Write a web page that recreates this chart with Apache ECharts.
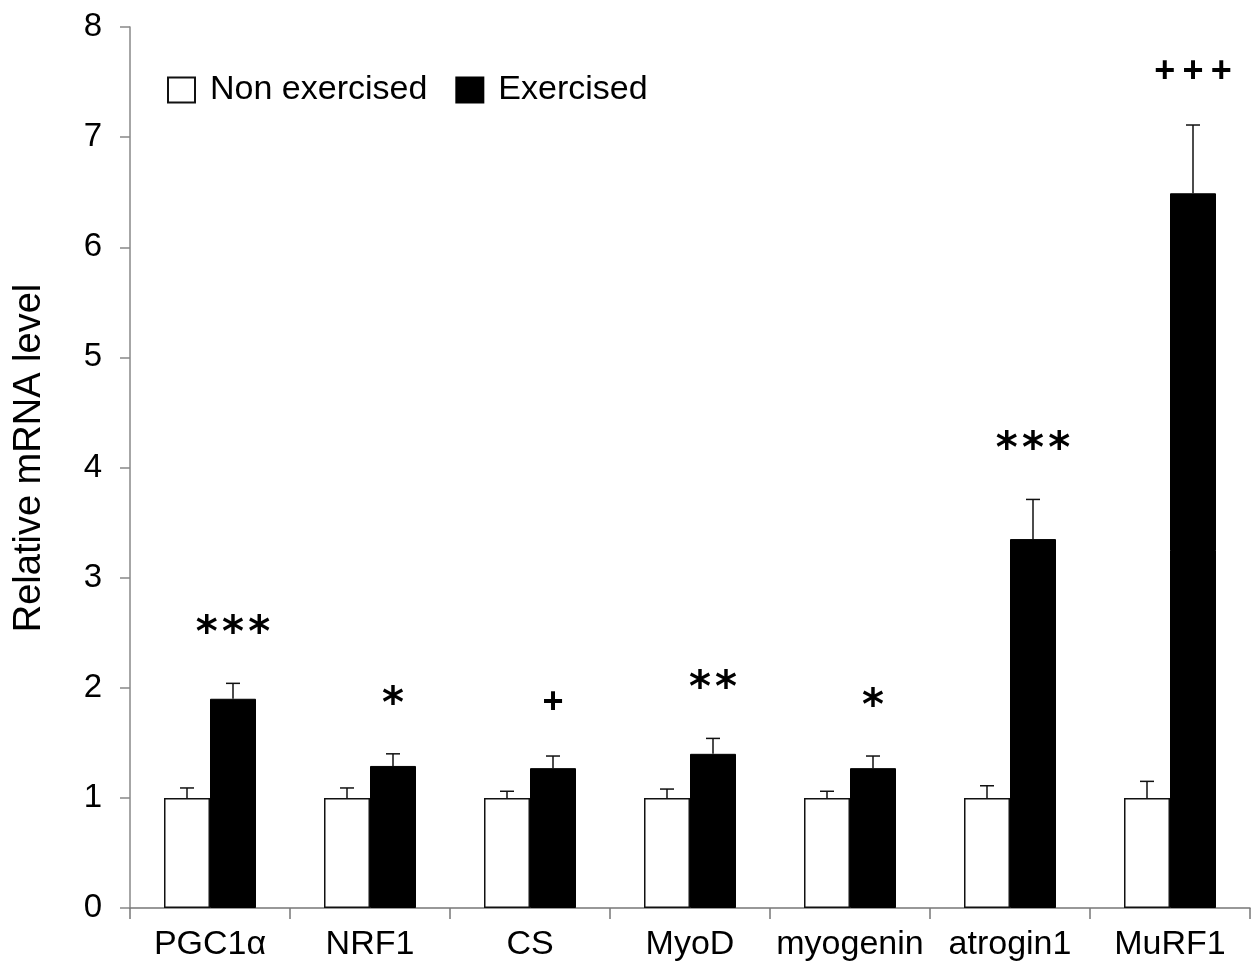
<!DOCTYPE html>
<html>
<head>
<meta charset="utf-8">
<script src="https://cdn.jsdelivr.net/npm/echarts@6/dist/echarts.min.js"></script>
<style>
  html, body { margin: 0; padding: 0; background: #fff; }
  #chart { width: 1255px; height: 969px; }
</style>
</head>
<body>
<div id="chart"></div>
<script>
const genes = ['PGC1\u03b1', 'NRF1', 'CS', 'MyoD', 'myogenin', 'atrogin1', 'MuRF1'];
const nonExercised = [1, 1, 1, 1, 1, 1, 1];
const nonExercisedErr = [0.09, 0.09, 0.06, 0.08, 0.06, 0.11, 0.15];
const exercised = [1.90, 1.29, 1.27, 1.40, 1.27, 3.35, 6.49];
const exercisedErr = [0.14, 0.11, 0.11, 0.14, 0.11, 0.36, 0.62];
const marks = ['***', '*', '+', '**', '*', '***', '+++'];
const yTicks = [0, 1, 2, 3, 4, 5, 6, 7, 8];

const font = 'Liberation Sans, Arial, sans-serif';
const barW = 46;

// error bars (upward only) drawn next to each bar, plus the significance marks
function errorBars(values, errs, shift, withMarks) {
  return {
    type: 'custom',
    silent: true,
    z: 5,
    data: values.map((v, i) => [i, v, v + errs[i]]),
    renderItem(params, api) {
      const i = api.value(0);
      const base = api.coord([i, api.value(1)]);
      const top = api.coord([i, api.value(2)]);
      const x = base[0] + shift;
      const style = { stroke: '#111', lineWidth: 1.5 };
      const children = [
        { type: 'line', shape: { x1: x, y1: base[1], x2: x, y2: top[1] }, style },
        { type: 'line', shape: { x1: x - 7, y1: top[1], x2: x + 7, y2: top[1] }, style }
      ];
      if (withMarks) {
        const m = marks[i];
        const isStar = m.indexOf('*') >= 0;
        children.push({
          type: 'text',
          style: {
            text: m.split('').join(isStar ? '\u200a' : '\u2009'),
            x: x,
            y: top[1] - (isStar ? 48 : 53),
            align: 'center',
            verticalAlign: 'middle',
            fill: '#000',
            font: isStar ? 'bold 42px DejaVu Sans' : 'bold 36px Liberation Sans'
          }
        });
      }
      return { type: 'group', children };
    }
  };
}

const chart = echarts.init(document.getElementById('chart'));
chart.setOption({
  animation: false,
  backgroundColor: '#fff',
  textStyle: { fontFamily: font },
  grid: { left: 130, right: 5, top: 27, bottom: 61, containLabel: false },
  legend: {
    left: 162,
    top: 68,
    icon: 'rect',
    itemWidth: 27,
    itemHeight: 25,
    itemGap: 28,
    textStyle: { fontFamily: font, fontSize: 34, color: '#000', padding: [0, 0, 0, 10] },
    data: ['Non exercised', 'Exercised']
  },
  xAxis: {
    type: 'category',
    data: genes,
    axisLine: { lineStyle: { color: '#777', width: 1.5 } },
    axisTick: { show: true, interval: 0, length: 11, lineStyle: { color: '#777', width: 1.5 } },
    axisLabel: { interval: 0, color: '#000', fontSize: 34, fontFamily: font, margin: 20 }
  },
  yAxis: {
    type: 'value',
    min: yTicks[0],
    max: yTicks[yTicks.length - 1],
    interval: 1,
    splitLine: { show: false },
    axisLine: { show: true, lineStyle: { color: '#888', width: 1.5 } },
    axisTick: { show: true, length: 10, lineStyle: { color: '#888', width: 1.5 } },
    axisLabel: { color: '#000', fontSize: 33, fontFamily: font, margin: 28 }
  },
  graphic: [{
    type: 'text',
    x: 30,
    y: 458,
    rotation: Math.PI / 2,
    style: {
      text: 'Relative mRNA level',
      align: 'center',
      verticalAlign: 'middle',
      font: '38px ' + font,
      fill: '#000'
    }
  }],
  series: [
    {
      name: 'Non exercised',
      type: 'bar',
      barWidth: barW,
      barGap: '0%',
      data: nonExercised,
      itemStyle: { color: '#fff', borderColor: '#111', borderWidth: 1.5 }
    },
    {
      name: 'Exercised',
      type: 'bar',
      barWidth: barW,
      barGap: '0%',
      data: exercised,
      itemStyle: { color: '#000', borderColor: '#000', borderWidth: 1 }
    },
    errorBars(nonExercised, nonExercisedErr, -barW / 2, false),
    errorBars(exercised, exercisedErr, barW / 2, true)
  ]
});
</script>
</body>
</html>
